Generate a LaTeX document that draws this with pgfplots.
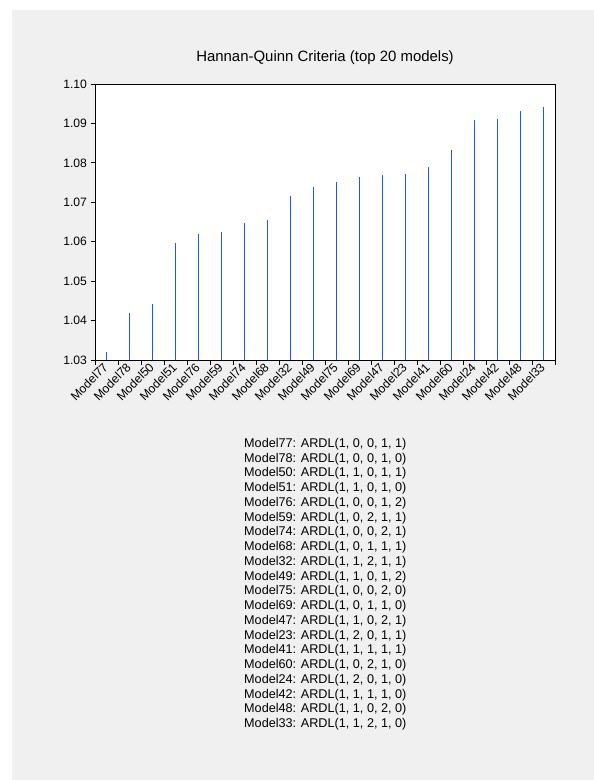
\documentclass[border=0pt]{standalone}
\usepackage{pgfplots}
\pgfplotsset{compat=1.18}
\usepackage{fontspec}
\setmainfont{Liberation Sans}
\definecolor{bg}{RGB}{240,240,240}
\definecolor{stem}{RGB}{25,90,230}
\pgfplotstableread{
x y
1 1.0321
2 1.0418
3 1.0443
4 1.0598
5 1.0619
6 1.0625
7 1.0647
8 1.0655
9 1.0717
10 1.0740
11 1.0751
12 1.0764
13 1.0769
14 1.0773
15 1.0789
16 1.0832
17 1.0908
18 1.0910
19 1.0931
20 1.0942
}\hqdata
\begin{document}
\begin{tikzpicture}[x=1bp,y=1bp]
\fill[white] (0,0) rectangle (594,-780);
\fill[bg] (12,-10) rectangle (594,-780);
\node[font=\fontsize{15}{18}\selectfont, anchor=base] at (325,-62) {Hannan-Quinn Criteria (top 20 models)};
\begin{axis}[
  at={(95bp,-360bp)}, anchor=south west,
  scale only axis, width=460bp, height=276bp,
  xmin=0.5, xmax=20.5, ymin=1.03, ymax=1.10,
  axis background/.style={fill=white},
  axis line style={black, line width=1bp},
  tick style={black, line width=1bp},
  tick align=outside,
  xtick pos=bottom, ytick pos=left,
  xtick={0.5,1.5,...,20.5},
  xticklabels={},
  extra x ticks={1,...,20},
  extra x tick labels={Model77,Model78,Model50,Model51,Model76,Model59,Model74,Model68,Model32,Model49,Model75,Model69,Model47,Model23,Model41,Model60,Model24,Model42,Model48,Model33},
  extra x tick style={major x tick style={draw=none}, xticklabel style={rotate=45, anchor=east, font=\fontsize{12.2}{14}\selectfont, inner sep=1bp}},
  ytick={1.03,1.04,...,1.10},
  major tick length=4.5bp,
  yticklabel style={font=\fontsize{12.2}{14}\selectfont, /pgf/number format/.cd, fixed, fixed zerofill, precision=2},
  /pgf/number format/assume math mode=true,
  clip=false,
]
\addplot[ycomb, stem, line width=1.1bp, mark=none] table[x=x,y=y] {\hqdata};
\end{axis}
\node[anchor=north west, align=left, font=\fontsize{12.7}{14.8}\selectfont, inner sep=0pt] at (244,-438) {%
Model77: ARDL(1, 0, 0, 1, 1)\\
Model78: ARDL(1, 0, 0, 1, 0)\\
Model50: ARDL(1, 1, 0, 1, 1)\\
Model51: ARDL(1, 1, 0, 1, 0)\\
Model76: ARDL(1, 0, 0, 1, 2)\\
Model59: ARDL(1, 0, 2, 1, 1)\\
Model74: ARDL(1, 0, 0, 2, 1)\\
Model68: ARDL(1, 0, 1, 1, 1)\\
Model32: ARDL(1, 1, 2, 1, 1)\\
Model49: ARDL(1, 1, 0, 1, 2)\\
Model75: ARDL(1, 0, 0, 2, 0)\\
Model69: ARDL(1, 0, 1, 1, 0)\\
Model47: ARDL(1, 1, 0, 2, 1)\\
Model23: ARDL(1, 2, 0, 1, 1)\\
Model41: ARDL(1, 1, 1, 1, 1)\\
Model60: ARDL(1, 0, 2, 1, 0)\\
Model24: ARDL(1, 2, 0, 1, 0)\\
Model42: ARDL(1, 1, 1, 1, 0)\\
Model48: ARDL(1, 1, 0, 2, 0)\\
Model33: ARDL(1, 1, 2, 1, 0)};
\end{tikzpicture}
\end{document}
